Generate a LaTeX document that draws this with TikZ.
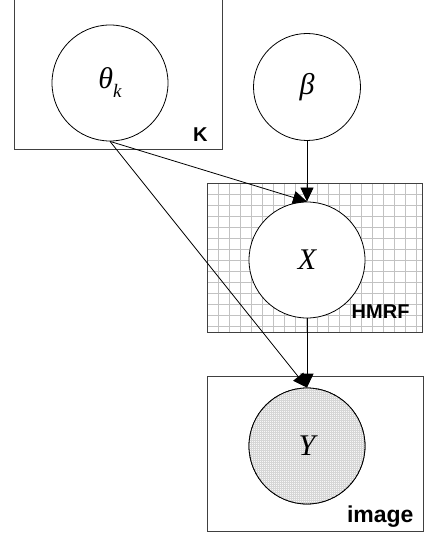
\documentclass[tikz,border=0pt]{standalone}
\usepackage{fontspec}
\setmainfont{Liberation Serif}
\newfontfamily\platefont{Liberation Sans}
\usepackage{tikz}
\usetikzlibrary{arrows.meta}

\begin{document}
\begin{tikzpicture}[x=1pt, y=-1pt,
  var/.style={circle, draw, line width=0.8pt, minimum size=116pt, inner sep=0pt, fill=white, font=\fontsize{30}{30}\selectfont\itshape},
  plate/.style={draw=black!75, line width=0.9pt},
  platelabel/.style={anchor=base east, font=\platefont\bfseries\fontsize{20}{20}\selectfont},
  gridline/.style={draw=black!24, line width=0.6pt},
  arrow/.style={-{Triangle[length=14pt, width=13pt]}, line width=0.8pt}
]
 \useasboundingbox (0,0) rectangle (426,537);

 % Plates
 \draw[plate] (14,-10) rectangle (222,149);
 \begin{scope}[shift={(207,183)}]
  \draw[gridline] (0,0) grid[step=11pt] (215,149);
 \end{scope}
 \draw[plate] (207,183) rectangle (422,332);
 \draw[plate] (207,376) rectangle (423,531);

 \node[platelabel] (labK) at (211,142) {K};
 \node[platelabel] (labHMRF) at (413,318) {HMRF};
 \node[platelabel, font=\platefont\bfseries\fontsize{23}{23}\selectfont] (labImage) at (417,522) {image};

 % Variables
 \node[var] (theta) at (110,83) {θ\raisebox{-9pt}{\fontsize{19}{19}\selectfont k}};
 \node[var, minimum size=107pt] (beta) at (307,87) {β};
 \node[var] (X) at (307,260) {X};
 \node[var, fill=black!3] (Y) at (307,446) {};
 % fine hatching of the observed node
 \begin{scope}
  \clip (Y.center) circle (58);
  \draw[black!16, line width=0.3pt, shift={(Y.center)}] (-60,-60) grid[step=2pt] (60,60);
 \end{scope}
 \draw[line width=0.8pt] (Y.center) circle (58);
 \node[font=\fontsize{30}{30}\selectfont\itshape] (labY) at (Y.center) {Y};

 % Dependencies
 \draw[arrow] (theta.south) -- (X.north);
 \draw[arrow] (theta.south) -- (Y.north);
 \draw[arrow] (beta) -- (X);
 \draw[arrow] (X) -- (Y);
\end{tikzpicture}
\end{document}
